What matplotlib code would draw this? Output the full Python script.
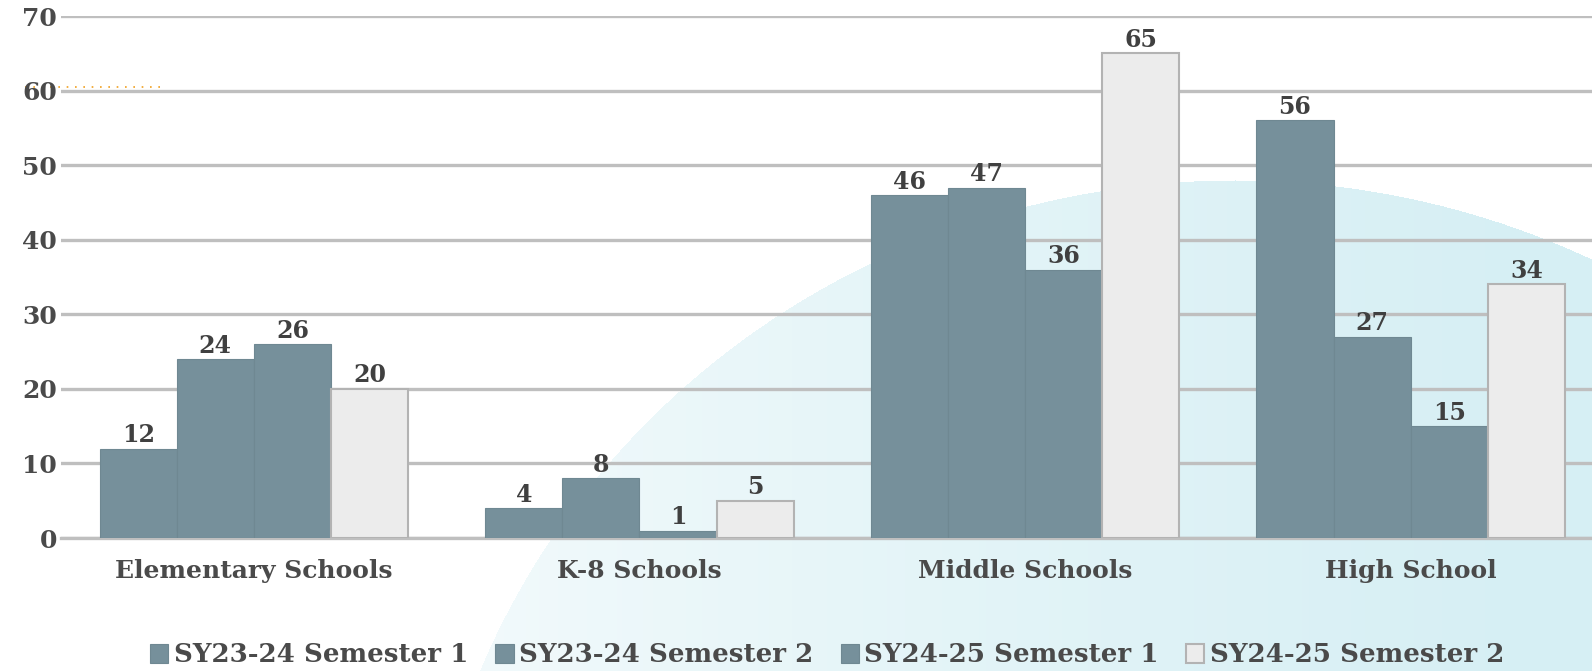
import matplotlib.pyplot as plt
import numpy as np

categories = ["Elementary Schools", "K-8 Schools", "Middle Schools", "High School"]
series_names = ["SY23-24 Semester 1", "SY23-24 Semester 2",
                "SY24-25 Semester 1", "SY24-25 Semester 2"]
sy2324_s1 = [12, 4, 46, 56]
sy2324_s2 = [24, 8, 47, 27]
sy2425_s1 = [26, 1, 36, 15]
sy2425_s2 = [20, 5, 65, 34]
y_ticks = [0, 10, 20, 30, 40, 50, 60, 70]

SLATE = "#76909b"
LIGHT = "#ececec"
TEXT = "#4a4a4a"
GRID = "#bfbfbf"

plt.rcParams["font.family"] = ["DejaVu Serif"]
plt.rcParams["font.weight"] = "bold"

W, H = 1592, 671
fig = plt.figure(figsize=(W / 100, H / 100), dpi=100)

# background: pale cyan ellipse fading in from the left
bg = fig.add_axes([0, 0, 1, 1], zorder=0)
bg.set_xlim(0, W)
bg.set_ylim(H, 0)
bg.axis("off")
xx, yy = np.meshgrid(np.arange(W), np.arange(H))
cx, cy, rx, ry = 1235, 965, 815, 785
inside = ((xx - cx) / rx) ** 2 + ((yy - cy) / ry) ** 2 <= 1
fade = np.clip((xx - 420) / 1100, 0, 1) ** 0.8
img = np.ones((H, W, 4))
img[..., 0] = 214 / 255
img[..., 1] = 239 / 255
img[..., 2] = 244 / 255
img[..., 3] = np.where(inside, 0.25 + 0.75 * fade, 0)
bg.imshow(img, extent=(0, W, H, 0), aspect="auto", interpolation="bilinear")
bg.plot([25, 162], [87, 87], color="#f0a020", lw=1.2, ls=(0, (1, 4)))

ax = fig.add_axes([61 / W, 1 - 538 / H, 1 - 61 / W, (538 - 16) / H], zorder=1)
ax.patch.set_alpha(0)

x = np.arange(len(categories))
width = 0.2
all_series = [sy2324_s1, sy2324_s2, sy2425_s1, sy2425_s2]
colors = [SLATE, SLATE, SLATE, LIGHT]
edges = ["#6f8892", "#6f8892", "#6f8892", "#b3b3b3"]
for i, (vals, c, e) in enumerate(zip(all_series, colors, edges)):
    bars = ax.bar(x + (i - 1.5) * width, vals, width, color=c, edgecolor=e,
                  linewidth=1.5 if i == 3 else 0.8, label=series_names[i], zorder=3)
    ax.bar_label(bars, padding=1, fontsize=17, color="#404040", fontweight="bold")

ax.set_ylim(0, 70)
ax.set_xlim(-0.5, 3.47)
ax.set_yticks(y_ticks)
ax.yaxis.grid(True, color=GRID, linewidth=2.4, zorder=0)
ax.set_axisbelow(True)
ax.set_xticks(x)
ax.set_xticklabels(categories, fontsize=18.5)
ax.tick_params(axis="both", length=0, labelsize=18, labelcolor=TEXT)
ax.tick_params(axis="x", pad=15)
ax.tick_params(axis="y", pad=3)
for side in ["top", "right", "left"]:
    ax.spines[side].set_visible(False)
ax.spines["bottom"].set_color(GRID)
ax.spines["bottom"].set_linewidth(2.4)

handles, labels = ax.get_legend_handles_labels()
leg = fig.legend(handles, labels, loc="center", ncol=4, frameon=False,
                 bbox_to_anchor=(827 / W, 1 - 655 / H), fontsize=18.8,
                 handlelength=0.7, handleheight=0.7, handletextpad=0.2,
                 columnspacing=1.05, labelcolor=TEXT)

fig.savefig("out.png", dpi=100)
